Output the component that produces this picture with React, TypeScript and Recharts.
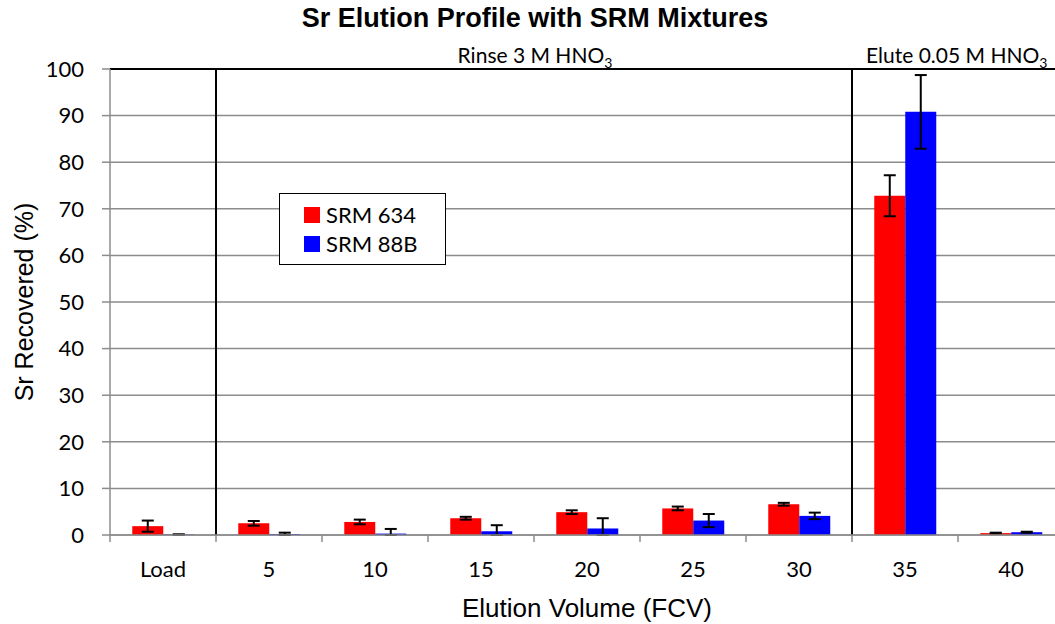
import React from "react";
import {
  Bar,
  BarChart,
  CartesianGrid,
  ErrorBar,
  Legend,
  ReferenceLine,
  XAxis,
  YAxis,
} from "recharts";

const categories = ["Load", "5", "10", "15", "20", "25", "30", "35", "40"];
const srm634 = [1.9, 2.5, 2.8, 3.6, 4.9, 5.7, 6.6, 72.8, 0.4];
const srm634Err = [1.2, 0.5, 0.5, 0.3, 0.4, 0.4, 0.3, 4.4, 0.1];
const srm88b = [0.1, 0.2, 0.3, 0.8, 1.4, 3.1, 4.1, 90.8, 0.6];
const srm88bErr = [0, 0.3, 1.0, 1.3, 2.2, 1.4, 0.7, 7.9, 0.1];
const yTicks = [0, 10, 20, 30, 40, 50, 60, 70, 80, 90, 100];

// lower whisker stops at the axis, like the Excel original
const clipErr = (v: number, e: number) => [Math.min(v, e), e];

const data = categories.map((c, i) => ({
  name: c,
  srm634: srm634[i],
  srm634Err: clipErr(srm634[i], srm634Err[i]),
  srm88b: srm88b[i],
  srm88bErr: clipErr(srm88b[i], srm88bErr[i]),
}));

const GRID = "#8c8c8c";
const TICK_FONT = "Lato, 'Noto Sans', sans-serif";
const ARIAL = "'Liberation Sans', Arial, sans-serif";

// category labels plus Excel-style tick marks between categories
const CategoryTick = (props: any) => {
  const { x, y, payload, width, visibleTicksCount } = props;
  const half = width / visibleTicksCount / 2;
  return (
    <g>
      <line x1={x - half} x2={x - half} y1={y} y2={y + 7} stroke={GRID} strokeWidth={1.5} />
      <text x={x} y={y + 42} textAnchor="middle" fontFamily={TICK_FONT} fontSize={22} fill="#000">
        {payload.value}
      </text>
    </g>
  );
};

const LegendBox = () => (
  <div
    style={{
      border: "1.5px solid #000",
      background: "#fff",
      width: 167,
      height: 72,
      boxSizing: "border-box",
      padding: "6px 0 0 24px",
      fontFamily: TICK_FONT,
      fontSize: 22,
      lineHeight: "29px",
      textAlign: "left",
    }}
  >
    {[
      ["#ff0000", "SRM 634"],
      ["#0000ff", "SRM 88B"],
    ].map(([color, label]) => (
      <div key={label} style={{ display: "flex", alignItems: "center" }}>
        <span style={{ width: 16, height: 16, background: color, marginRight: 6 }} />
        {label}
      </div>
    ))}
  </div>
);

const App: React.FC = () => {
  return (
    <div
      style={{
        position: "absolute",
        left: 0,
        top: 0,
        width: 1055,
        height: 624,
        overflow: "hidden",
        background: "#fff",
      }}
    >
      <div
        style={{
          position: "absolute",
          left: 0,
          width: 1070,
          top: 3,
          textAlign: "center",
          fontFamily: ARIAL,
          fontWeight: "bold",
          fontSize: 27,
        }}
      >
        Sr Elution Profile with SRM Mixtures
      </div>
      <div
        style={{
          position: "absolute",
          left: 216,
          width: 638,
          top: 42,
          textAlign: "center",
          fontFamily: TICK_FONT,
          fontSize: 21,
        }}
      >
        Rinse 3 M HNO<sub style={{ fontSize: 14 }}>3</sub>
      </div>
      <div
        style={{
          position: "absolute",
          left: 866,
          top: 42,
          fontFamily: TICK_FONT,
          fontSize: 21,
          whiteSpace: "nowrap",
        }}
      >
        Elute 0.05 M HNO<sub style={{ fontSize: 14 }}>3</sub>
      </div>
      <BarChart
        width={1080}
        height={624}
        data={data}
        margin={{ top: 69, right: 16, left: 0, bottom: 0 }}
        barCategoryGap="21%"
        barGap={0}
      >
        <CartesianGrid vertical={false} stroke={GRID} strokeWidth={1.5} />
        <XAxis
          dataKey="name"
          height={89}
          tickLine={false}
          tickSize={0}
          tickMargin={0}
          axisLine={{ stroke: GRID, strokeWidth: 1.5 }}
          tick={<CategoryTick />}
          interval={0}
          label={{
            value: "Elution Volume (FCV)",
            position: "insideBottom",
            offset: 7,
            style: { fontFamily: ARIAL, fontSize: 26, fill: "#000" },
          }}
        />
        <YAxis
          width={110}
          domain={[0, 100]}
          allowDataOverflow
          ticks={yTicks}
          interval={0}
          tickSize={8}
          tickMargin={18}
          tickLine={{ stroke: GRID, strokeWidth: 1.5 }}
          axisLine={{ stroke: GRID, strokeWidth: 1.5 }}
          tick={{ fontFamily: TICK_FONT, fontSize: 22, fill: "#000" }}
          label={{
            value: "Sr Recovered (%)",
            angle: -90,
            position: "insideLeft",
            offset: 24,
            style: { fontFamily: ARIAL, fontSize: 25, fill: "#000", textAnchor: "middle" },
          }}
        />
        <Legend
          layout="horizontal"
          verticalAlign="middle"
          align="center"
          wrapperStyle={{ left: 279, top: 193, width: 167 }}
          content={() => <LegendBox />}
        />
        <Bar dataKey="srm634" name="SRM 634" fill="#ff0000" isAnimationActive={false}>
          <ErrorBar dataKey="srm634Err" width={6} stroke="#000" strokeWidth={2} />
        </Bar>
        <Bar dataKey="srm88b" name="SRM 88B" fill="#0000ff" isAnimationActive={false}>
          <ErrorBar dataKey="srm88bErr" width={6} stroke="#000" strokeWidth={2} />
        </Bar>
        <ReferenceLine y={100} stroke="#000" strokeWidth={2} />
        <ReferenceLine x="5" position="start" stroke="#000" strokeWidth={2} />
        <ReferenceLine x="35" position="start" stroke="#000" strokeWidth={2} />
      </BarChart>
    </div>
  );
};

export default App;
